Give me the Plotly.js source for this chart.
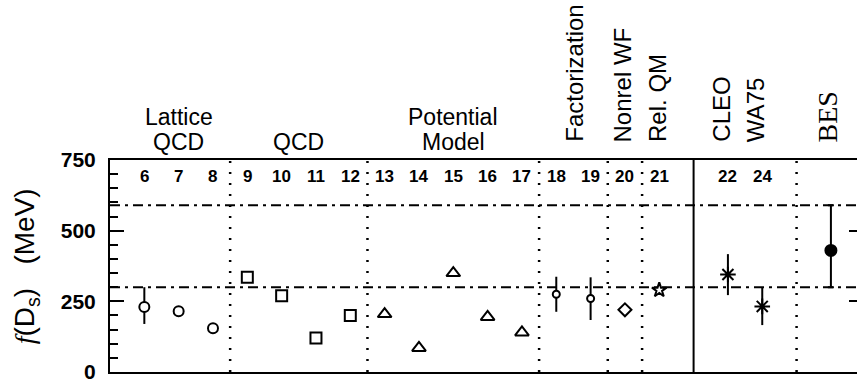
<!DOCTYPE html>
<html>
<head>
<meta charset="utf-8">
<script src="https://cdn.plot.ly/plotly-3.0.1.min.js"></script>
<style>html,body{margin:0;padding:0;background:#fff;overflow:hidden;}</style>
</head>
<body>
<div id="chart" style="width:857px;height:386px;"></div>
<script>
// ---- data ----
const refLabels = ['6','7','8','9','10','11','12','13','14','15','16','17','18','19','20','21','22','24'];
const refPos    = [6,7,8,9,10,11,12,13,14,15,16,17,18,19,20,21,23,24];

const latticeX = [6,7,8];
const latticeY = [230,215,155];
const latticePlus = [70,0,0];
const latticeMinus = [60,0,0];

const qcdX = [9,10,11,12];
const qcdY = [335,270,120,200];

const potX = [13,14,15,16,17];
const potY = [205,85,350,195,140];

const factX = [18,19];
const factY = [275,260];
const factPlus = [62,75];
const factMinus = [62,76];

const nonrelX = [20];
const nonrelY = [220];

const relqmX = [21];
const relqmY = [290];

const cleoX = [23];
const cleoY = [345];
const cleoPlus = [72];
const cleoMinus = [73];

const wa75X = [24];
const wa75Y = [232];
const wa75Plus = [68];
const wa75Minus = [66];

const besX = [26];
const besY = [430];
const besPlus = [160];
const besMinus = [130];

const dottedDividers = [8.5,12.5,17.5,19.5,20.5,25];
const solidDividers = [22];
const bandLines = [300,590];

const groupTop = ['Lattice','','Potential'];
const groupBottom = ['QCD','QCD','Model'];
const groupPos = [7,10.5,15];

const rotLabels = ['Factorization','Nonrel WF','Rel. QM','CLEO','WA75','BES'];
const rotPos = [18.52,19.94,20.93,22.83,23.79,25.91];

const yTickVals = [0,250,500,750];
const yTickText = ['0','250','500','750'];

// ---- build ----
const SANS = 'Liberation Sans, Arial, Helvetica, sans-serif';
const SERIF = 'Liberation Serif, Times New Roman, serif';

function series(x, y, symbol, size, fill, plus, minus, capw) {
  const t = {
    x: x, y: y, type: 'scatter', mode: 'markers', showlegend: false, hoverinfo: 'skip',
    cliponaxis: false,
    marker: {symbol: symbol, size: size, color: fill, line: {color: 'black', width: 2}}
  };
  if (plus) {
    t.error_y = {type: 'data', symmetric: false, array: plus, arrayminus: minus,
                 color: 'black', thickness: 2, width: capw || 0};
  }
  return t;
}

const traces = [
  series(latticeX, latticeY, 'circle', 10, 'white', latticePlus, latticeMinus),
  series(qcdX, qcdY, 'square', 11, 'white'),
  series(potX, potY, 'triangle-up', 12, 'white'),
  series(factX, factY, 'circle', 7, 'white', factPlus, factMinus),
  series(nonrelX, nonrelY, 'diamond', 10, 'white'),
  series(relqmX, relqmY, 'star', 11, 'white'),
  series(cleoX, cleoY, 'asterisk-open', 13, 'black', cleoPlus, cleoMinus),
  series(wa75X, wa75Y, 'asterisk-open', 13, 'black', wa75Plus, wa75Minus),
  series(besX, besY, 'circle', 11, 'black', besPlus, besMinus, 3),
  {x: [null], y: [null], yaxis: 'y2', type: 'scatter', mode: 'markers', showlegend: false, hoverinfo: 'skip'}
];

const shapes = [];
dottedDividers.forEach(d => shapes.push({type: 'line', xref: 'x', yref: 'paper', x0: d, x1: d, y0: 0, y1: 1,
  layer: 'below', line: {color: 'black', width: 2.5, dash: '2px,9px'}}));
solidDividers.forEach(d => shapes.push({type: 'line', xref: 'x', yref: 'paper', x0: d, x1: d, y0: 0, y1: 1,
  layer: 'below', line: {color: 'black', width: 2}}));
bandLines.forEach(v => shapes.push({type: 'line', xref: 'paper', yref: 'y', x0: 0, x1: 1, y0: v, y1: v,
  layer: 'below', line: {color: 'black', width: 2, dash: '10px,5px,3px,5px'}}));

const annotations = [];
refLabels.forEach((s, i) => annotations.push({x: refPos[i], y: 692, xref: 'x', yref: 'y', text: s,
  showarrow: false, xanchor: 'center', yanchor: 'middle',
  font: {family: SANS, size: 17, color: 'black', weight: 'bold'}}));
groupPos.forEach((p, i) => {
  if (groupTop[i]) annotations.push({x: p, y: 1.205, xref: 'x', yref: 'paper', text: groupTop[i],
    showarrow: false, xanchor: 'center', yanchor: 'middle', font: {family: SANS, size: 23, color: 'black'}});
  annotations.push({x: p, y: 1.087, xref: 'x', yref: 'paper', text: groupBottom[i],
    showarrow: false, xanchor: 'center', yanchor: 'middle', font: {family: SANS, size: 23, color: 'black'}});
});
rotLabels.forEach((s, i) => annotations.push({x: rotPos[i], y: 1.075, xref: 'x', yref: 'paper', text: s,
  showarrow: false, textangle: -90, xanchor: 'center', yanchor: 'bottom',
  font: {family: s === 'BES' ? SERIF : SANS, size: s === 'BES' ? 28 : 24, color: 'black'}}));
annotations.push({x: -0.112, y: 0.5, xref: 'paper', yref: 'paper', showarrow: false, textangle: -90,
  xanchor: 'center', yanchor: 'middle',
  text: '<span style="font-family:Liberation Serif"><i>f</i></span>(D<sub>s</sub>)&nbsp;&nbsp;&nbsp;(MeV)',
  font: {family: SANS, size: 28, color: 'black'}});

const layout = {
  width: 857, height: 386,
  margin: {l: 110, r: 0, t: 160, b: 14, pad: 0},
  paper_bgcolor: 'white', plot_bgcolor: 'white',
  showlegend: false,
  xaxis: {range: [5, 26.76], showline: true, mirror: true, linecolor: 'black', linewidth: 2,
          showticklabels: false, ticks: '', showgrid: false, zeroline: false, fixedrange: true},
  yaxis: {range: [0, 750], showline: true, linecolor: 'black', linewidth: 2,
          tickmode: 'array', tickvals: yTickVals, ticktext: yTickText,
          ticks: 'inside', ticklen: 14, tickwidth: 2, tickcolor: 'black', ticklabelstandoff: 8,
          tickfont: {family: SANS, size: 21, color: 'black', weight: 'bold'},
          minor: {ticks: 'inside', ticklen: 8, tickwidth: 2, tickcolor: 'black', dtick: 50, tick0: 0, showgrid: false},
          showgrid: false, zeroline: false, fixedrange: true},
  yaxis2: {range: [0, 750], overlaying: 'y', side: 'right', anchor: 'x', showline: false,
           tickmode: 'array', tickvals: [250, 500], ticks: 'inside', ticklen: 8, tickwidth: 2, tickcolor: 'black',
           showticklabels: false, showgrid: false, zeroline: false, fixedrange: true},
  shapes: shapes,
  annotations: annotations
};

Plotly.newPlot('chart', traces, layout, {displayModeBar: false, staticPlot: true});
</script>
</body>
</html>
